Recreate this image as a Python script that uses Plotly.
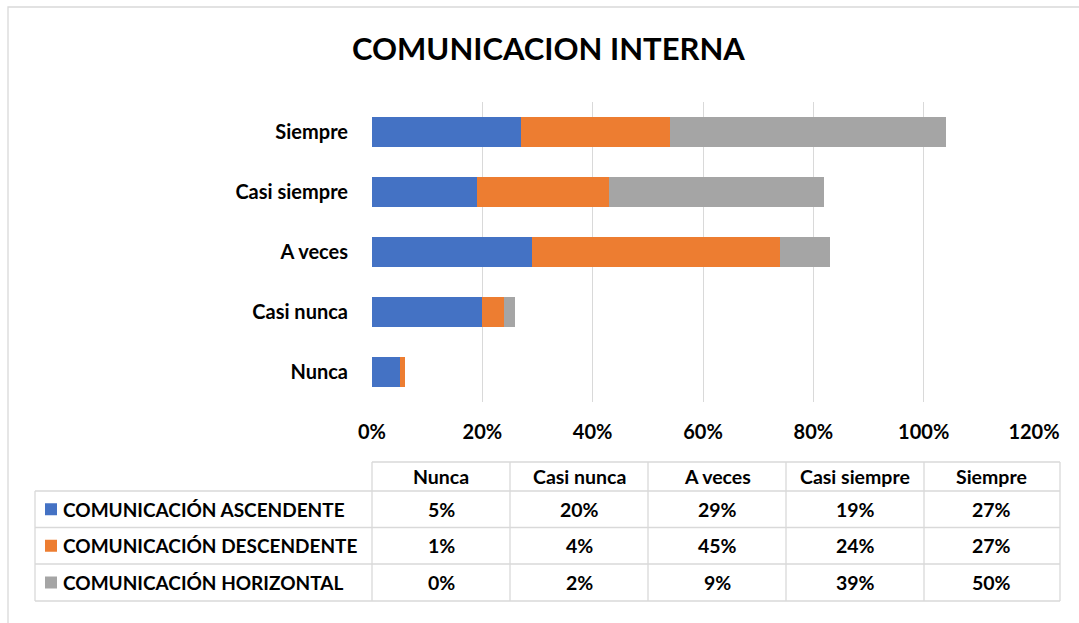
from plotly import graph_objects as go

# data
categories = ["Nunca", "Casi nunca", "A veces", "Casi siempre", "Siempre"]
series_names = [
    "COMUNICACIÓN ASCENDENTE",
    "COMUNICACIÓN DESCENDENTE",
    "COMUNICACIÓN HORIZONTAL",
]
ascendente = [0.05, 0.20, 0.29, 0.19, 0.27]
descendente = [0.01, 0.04, 0.45, 0.24, 0.27]
horizontal = [0.00, 0.02, 0.09, 0.39, 0.50]
x_ticks = [0, 0.2, 0.4, 0.6, 0.8, 1.0, 1.2]

series_values = [ascendente, descendente, horizontal]
colors = ["#4472C4", "#ED7D31", "#A5A5A5"]

W, H = 1079, 623
FONT = "Lato"
TXT = "#000000"
GRID = "#D9D9D9"


def px(x):
    return x / W


def py(y):
    return 1 - y / H


fig = go.Figure()

for name, vals, col in zip(series_names, series_values, colors):
    fig.add_trace(go.Bar(
        y=categories, x=vals, name=name, orientation="h",
        marker=dict(color=col, line=dict(width=0)),
        width=0.5, showlegend=False, hoverinfo="x+name",
    ))

# data table under the chart
col_edges = [372, 510, 648, 786, 924, 1060]
row_edges = [462, 491, 527.5, 564, 601]
left_edge = 35

shapes = []
annotations = []
line = dict(color=GRID, width=1.3)
cell_font = dict(family=FONT, size=19.5, color=TXT, weight="bold")


def note(x, y, text, font, xanchor="center"):
    return dict(x=px(x), y=py(y), xref="paper", yref="paper", text=text,
                showarrow=False, xanchor=xanchor, yanchor="middle", font=font)


shapes.append(dict(type="line", xref="paper", yref="paper",
                   x0=px(col_edges[0]), x1=px(col_edges[-1]),
                   y0=py(row_edges[0]), y1=py(row_edges[0]), line=line))
for r in row_edges[1:]:
    shapes.append(dict(type="line", xref="paper", yref="paper",
                       x0=px(left_edge), x1=px(col_edges[-1]),
                       y0=py(r), y1=py(r), line=line))
for c in col_edges:
    shapes.append(dict(type="line", xref="paper", yref="paper",
                       x0=px(c), x1=px(c),
                       y0=py(row_edges[0]), y1=py(row_edges[-1]), line=line))
shapes.append(dict(type="line", xref="paper", yref="paper",
                   x0=px(left_edge), x1=px(left_edge),
                   y0=py(row_edges[1]), y1=py(row_edges[-1]), line=line))

# header row
for i, cat in enumerate(categories):
    cx = (col_edges[i] + col_edges[i + 1]) / 2
    cy = (row_edges[0] + row_edges[1]) / 2
    annotations.append(note(cx, cy, cat, cell_font))

# series rows
for j, (name, vals, col) in enumerate(zip(series_names, series_values, colors)):
    cy = (row_edges[j + 1] + row_edges[j + 2]) / 2
    shapes.append(dict(type="rect", xref="paper", yref="paper",
                       x0=px(45), x1=px(57), y0=py(cy - 6), y1=py(cy + 6),
                       fillcolor=col, line=dict(width=0)))
    annotations.append(note(61, cy, name,
                            dict(family=FONT, size=19, color=TXT, weight="bold"),
                            xanchor="left"))
    for i, v in enumerate(vals):
        cx = (col_edges[i] + col_edges[i + 1]) / 2
        annotations.append(note(cx, cy, "%d%%" % round(v * 100), cell_font))

# chart border
shapes.append(dict(type="rect", xref="paper", yref="paper",
                   x0=px(8), x1=px(1100), y0=py(7), y1=py(650),
                   line=dict(color=GRID, width=1.3)))

annotations.append(note(548, 48, "COMUNICACION INTERNA",
                        dict(family=FONT, size=31, color=TXT, weight="bold")))

fig.update_layout(
    width=W, height=H,
    margin=dict(l=0, r=0, t=0, b=0),
    paper_bgcolor="white", plot_bgcolor="white",
    barmode="stack",
    shapes=shapes,
    annotations=annotations,
    xaxis=dict(
        domain=[px(372), px(1034)],
        range=[0, 1.2], tickvals=x_ticks, tickformat=".0%",
        showgrid=True, gridcolor=GRID, gridwidth=1.3,
        zeroline=False, showline=False, automargin=False,
        tickfont=dict(family=FONT, size=20, color=TXT, weight="bold"),
        ticklabelstandoff=16,
    ),
    yaxis=dict(
        domain=[py(402), py(102)],
        categoryorder="array", categoryarray=categories,
        showgrid=False, zeroline=False, showline=False, automargin=False,
        tickfont=dict(family=FONT, size=20, color=TXT, weight="bold"),
        ticklabelstandoff=23,
    ),
    font=dict(family=FONT, color=TXT),
)

fig.write_html(
    "out.html",
    config={"displayModeBar": False},
    post_script="document.body.style.margin='0';"
                "document.body.style.overflow='hidden';",
)
